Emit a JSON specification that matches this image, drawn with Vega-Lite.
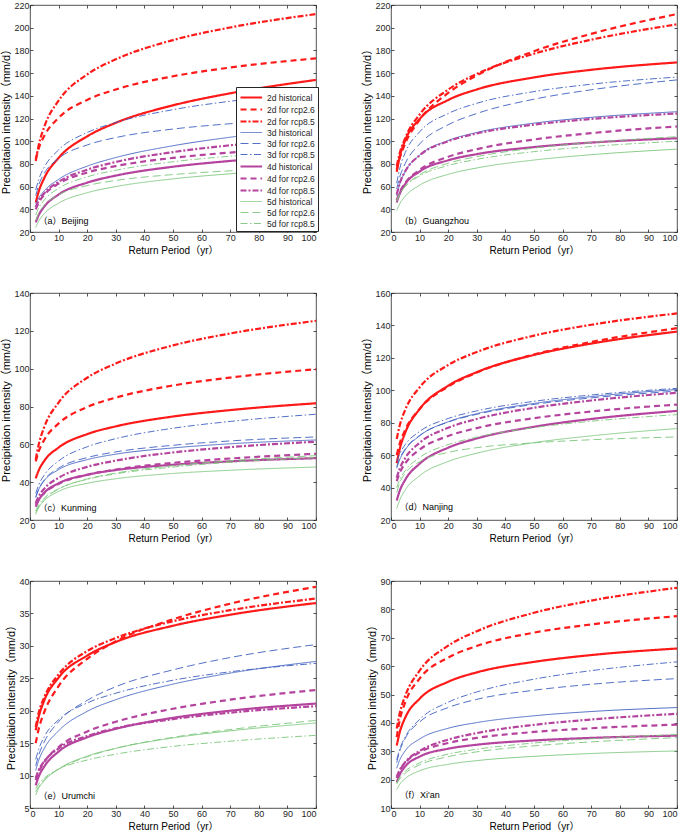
{
  "$schema": "https://vega.github.io/schema/vega-lite/v6.json",
  "padding": {"left": 0, "top": 0, "right": 0, "bottom": 0},
  "background": "white",
  "datasets": {
    "a": [
      {"s":"2d historical","t":2,"v":46},{"s":"2d historical","t":3,"v":55.4},{"s":"2d historical","t":5,"v":67.6},{"s":"2d historical","t":10,"v":85.3},{"s":"2d historical","t":20,"v":104.3},{"s":"2d historical","t":30,"v":116.2},{"s":"2d historical","t":50,"v":131.6},{"s":"2d historical","t":70,"v":142.2},{"s":"2d historical","t":100,"v":154},
      {"s":"2d for rcp2.6","t":2,"v":84},{"s":"2d for rcp2.6","t":3,"v":93.3},{"s":"2d for rcp2.6","t":5,"v":104.8},{"s":"2d for rcp2.6","t":10,"v":120.6},{"s":"2d for rcp2.6","t":20,"v":136.4},{"s":"2d for rcp2.6","t":30,"v":145.6},{"s":"2d for rcp2.6","t":50,"v":157.2},{"s":"2d for rcp2.6","t":70,"v":164.9},{"s":"2d for rcp2.6","t":100,"v":173},
      {"s":"2d for rcp8.5","t":2,"v":82.5},{"s":"2d for rcp8.5","t":3,"v":96},{"s":"2d for rcp8.5","t":5,"v":112.8},{"s":"2d for rcp8.5","t":10,"v":135.7},{"s":"2d for rcp8.5","t":20,"v":158.8},{"s":"2d for rcp8.5","t":30,"v":172.1},{"s":"2d for rcp8.5","t":50,"v":189.1},{"s":"2d for rcp8.5","t":70,"v":200.2},{"s":"2d for rcp8.5","t":100,"v":212},
      {"s":"3d historical","t":2,"v":45},{"s":"3d historical","t":3,"v":49.8},{"s":"3d historical","t":5,"v":56.3},{"s":"3d historical","t":10,"v":66.4},{"s":"3d historical","t":20,"v":78},{"s":"3d historical","t":30,"v":85.6},{"s":"3d historical","t":50,"v":96},{"s":"3d historical","t":70,"v":103.5},{"s":"3d historical","t":100,"v":112},
      {"s":"3d for rcp2.6","t":2,"v":52},{"s":"3d for rcp2.6","t":3,"v":61},{"s":"3d for rcp2.6","t":5,"v":71.7},{"s":"3d for rcp2.6","t":10,"v":84.8},{"s":"3d for rcp2.6","t":20,"v":96.7},{"s":"3d for rcp2.6","t":30,"v":103.2},{"s":"3d for rcp2.6","t":50,"v":110.7},{"s":"3d for rcp2.6","t":70,"v":115.4},{"s":"3d for rcp2.6","t":100,"v":120},
      {"s":"3d for rcp8.5","t":2,"v":57},{"s":"3d for rcp8.5","t":3,"v":65.9},{"s":"3d for rcp8.5","t":5,"v":77.1},{"s":"3d for rcp8.5","t":10,"v":92.3},{"s":"3d for rcp8.5","t":20,"v":107.7},{"s":"3d for rcp8.5","t":30,"v":116.5},{"s":"3d for rcp8.5","t":50,"v":127.8},{"s":"3d for rcp8.5","t":70,"v":135.2},{"s":"3d for rcp8.5","t":100,"v":143},
      {"s":"4d historical","t":2,"v":28.5},{"s":"4d historical","t":3,"v":34.7},{"s":"4d historical","t":5,"v":42.4},{"s":"4d historical","t":10,"v":53},{"s":"4d historical","t":20,"v":63.5},{"s":"4d historical","t":30,"v":69.7},{"s":"4d historical","t":50,"v":77.5},{"s":"4d historical","t":70,"v":82.6},{"s":"4d historical","t":100,"v":88},
      {"s":"4d for rcp2.6","t":2,"v":40},{"s":"4d for rcp2.6","t":3,"v":45.7},{"s":"4d for rcp2.6","t":5,"v":52.9},{"s":"4d for rcp2.6","t":10,"v":62.6},{"s":"4d for rcp2.6","t":20,"v":72.4},{"s":"4d for rcp2.6","t":30,"v":78.1},{"s":"4d for rcp2.6","t":50,"v":85.3},{"s":"4d for rcp2.6","t":70,"v":90},{"s":"4d for rcp2.6","t":100,"v":95},
      {"s":"4d for rcp8.5","t":2,"v":42},{"s":"4d for rcp8.5","t":3,"v":47.3},{"s":"4d for rcp8.5","t":5,"v":54.2},{"s":"4d for rcp8.5","t":10,"v":64.2},{"s":"4d for rcp8.5","t":20,"v":74.9},{"s":"4d for rcp8.5","t":30,"v":81.7},{"s":"4d for rcp8.5","t":50,"v":90.4},{"s":"4d for rcp8.5","t":70,"v":96.4},{"s":"4d for rcp8.5","t":100,"v":103},
      {"s":"5d historical","t":2,"v":24},{"s":"5d historical","t":3,"v":29.4},{"s":"5d historical","t":5,"v":36.2},{"s":"5d historical","t":10,"v":45.4},{"s":"5d historical","t":20,"v":54.6},{"s":"5d historical","t":30,"v":60},{"s":"5d historical","t":50,"v":66.8},{"s":"5d historical","t":70,"v":71.3},{"s":"5d historical","t":100,"v":76},
      {"s":"5d for rcp2.6","t":2,"v":30},{"s":"5d for rcp2.6","t":3,"v":36.3},{"s":"5d for rcp2.6","t":5,"v":43.6},{"s":"5d for rcp2.6","t":10,"v":52.7},{"s":"5d for rcp2.6","t":20,"v":60.9},{"s":"5d for rcp2.6","t":30,"v":65.4},{"s":"5d for rcp2.6","t":50,"v":70.6},{"s":"5d for rcp2.6","t":70,"v":73.9},{"s":"5d for rcp2.6","t":100,"v":77},
      {"s":"5d for rcp8.5","t":2,"v":35},{"s":"5d for rcp8.5","t":3,"v":40.9},{"s":"5d for rcp8.5","t":5,"v":48.3},{"s":"5d for rcp8.5","t":10,"v":58.4},{"s":"5d for rcp8.5","t":20,"v":68.6},{"s":"5d for rcp8.5","t":30,"v":74.4},{"s":"5d for rcp8.5","t":50,"v":81.9},{"s":"5d for rcp8.5","t":70,"v":86.8},{"s":"5d for rcp8.5","t":100,"v":92}
    ],
    "b": [
      {"s":"2d historical","t":2,"v":73},{"s":"2d historical","t":3,"v":85.8},{"s":"2d historical","t":5,"v":100.9},{"s":"2d historical","t":10,"v":119.6},{"s":"2d historical","t":20,"v":136.3},{"s":"2d historical","t":30,"v":145.6},{"s":"2d historical","t":50,"v":156.2},{"s":"2d historical","t":70,"v":162.9},{"s":"2d historical","t":100,"v":169.4},
      {"s":"2d for rcp2.6","t":2,"v":75},{"s":"2d for rcp2.6","t":3,"v":84.7},{"s":"2d for rcp2.6","t":5,"v":98.2},{"s":"2d for rcp2.6","t":10,"v":118.8},{"s":"2d for rcp2.6","t":20,"v":142.5},{"s":"2d for rcp2.6","t":30,"v":158},{"s":"2d for rcp2.6","t":50,"v":179.3},{"s":"2d for rcp2.6","t":70,"v":194.6},{"s":"2d for rcp2.6","t":100,"v":212},
      {"s":"2d for rcp8.5","t":2,"v":78},{"s":"2d for rcp8.5","t":3,"v":88.9},{"s":"2d for rcp8.5","t":5,"v":103},{"s":"2d for rcp8.5","t":10,"v":123.5},{"s":"2d for rcp8.5","t":20,"v":145.5},{"s":"2d for rcp8.5","t":30,"v":159.3},{"s":"2d for rcp8.5","t":50,"v":177.1},{"s":"2d for rcp8.5","t":70,"v":189.4},{"s":"2d for rcp8.5","t":100,"v":203},
      {"s":"3d historical","t":2,"v":52},{"s":"3d historical","t":3,"v":61.8},{"s":"3d historical","t":5,"v":73.4},{"s":"3d historical","t":10,"v":87.7},{"s":"3d historical","t":20,"v":100.6},{"s":"3d historical","t":30,"v":107.7},{"s":"3d historical","t":50,"v":115.9},{"s":"3d historical","t":70,"v":121},{"s":"3d historical","t":100,"v":126},
      {"s":"3d for rcp2.6","t":2,"v":58},{"s":"3d for rcp2.6","t":3,"v":68},{"s":"3d for rcp2.6","t":5,"v":80.5},{"s":"3d for rcp2.6","t":10,"v":97.5},{"s":"3d for rcp2.6","t":20,"v":114.5},{"s":"3d for rcp2.6","t":30,"v":124.4},{"s":"3d for rcp2.6","t":50,"v":137},{"s":"3d for rcp2.6","t":70,"v":145.3},{"s":"3d for rcp2.6","t":100,"v":154},
      {"s":"3d for rcp8.5","t":2,"v":63},{"s":"3d for rcp8.5","t":3,"v":75.4},{"s":"3d for rcp8.5","t":5,"v":90},{"s":"3d for rcp8.5","t":10,"v":108.2},{"s":"3d for rcp8.5","t":20,"v":124.4},{"s":"3d for rcp8.5","t":30,"v":133.4},{"s":"3d for rcp8.5","t":50,"v":143.7},{"s":"3d for rcp8.5","t":70,"v":150.2},{"s":"3d for rcp8.5","t":100,"v":156.5},
      {"s":"4d historical","t":2,"v":46},{"s":"4d historical","t":3,"v":53.5},{"s":"4d historical","t":5,"v":62.4},{"s":"4d historical","t":10,"v":73.3},{"s":"4d historical","t":20,"v":83.2},{"s":"4d historical","t":30,"v":88.6},{"s":"4d historical","t":50,"v":94.8},{"s":"4d historical","t":70,"v":98.8},{"s":"4d historical","t":100,"v":102.6},
      {"s":"4d for rcp2.6","t":2,"v":48},{"s":"4d for rcp2.6","t":3,"v":54.8},{"s":"4d for rcp2.6","t":5,"v":63.2},{"s":"4d for rcp2.6","t":10,"v":74.7},{"s":"4d for rcp2.6","t":20,"v":86.3},{"s":"4d for rcp2.6","t":30,"v":93},{"s":"4d for rcp2.6","t":50,"v":101.5},{"s":"4d for rcp2.6","t":70,"v":107.1},{"s":"4d for rcp2.6","t":100,"v":113},
      {"s":"4d for rcp8.5","t":2,"v":53},{"s":"4d for rcp8.5","t":3,"v":62.5},{"s":"4d for rcp8.5","t":5,"v":73.6},{"s":"4d for rcp8.5","t":10,"v":87.5},{"s":"4d for rcp8.5","t":20,"v":99.9},{"s":"4d for rcp8.5","t":30,"v":106.8},{"s":"4d for rcp8.5","t":50,"v":114.6},{"s":"4d for rcp8.5","t":70,"v":119.6},{"s":"4d for rcp8.5","t":100,"v":124.4},
      {"s":"5d historical","t":2,"v":39},{"s":"5d historical","t":3,"v":44.6},{"s":"5d historical","t":5,"v":51.6},{"s":"5d historical","t":10,"v":61.2},{"s":"5d historical","t":20,"v":70.8},{"s":"5d historical","t":30,"v":76.4},{"s":"5d historical","t":50,"v":83.4},{"s":"5d historical","t":70,"v":88.1},{"s":"5d historical","t":100,"v":93},
      {"s":"5d for rcp2.6","t":2,"v":47},{"s":"5d for rcp2.6","t":3,"v":52.9},{"s":"5d for rcp2.6","t":5,"v":60.3},{"s":"5d for rcp2.6","t":10,"v":70.4},{"s":"5d for rcp2.6","t":20,"v":80.6},{"s":"5d for rcp2.6","t":30,"v":86.4},{"s":"5d for rcp2.6","t":50,"v":93.9},{"s":"5d for rcp2.6","t":70,"v":98.8},{"s":"5d for rcp2.6","t":100,"v":104},
      {"s":"5d for rcp8.5","t":2,"v":48},{"s":"5d for rcp8.5","t":3,"v":53.4},{"s":"5d for rcp8.5","t":5,"v":60.2},{"s":"5d for rcp8.5","t":10,"v":69.4},{"s":"5d for rcp8.5","t":20,"v":78.6},{"s":"5d for rcp8.5","t":30,"v":84},{"s":"5d for rcp8.5","t":50,"v":90.8},{"s":"5d for rcp8.5","t":70,"v":95.3},{"s":"5d for rcp8.5","t":100,"v":100}
    ],
    "c": [
      {"s":"2d historical","t":2,"v":42},{"s":"2d historical","t":3,"v":46.1},{"s":"2d historical","t":5,"v":51.3},{"s":"2d historical","t":10,"v":58.3},{"s":"2d historical","t":20,"v":65.4},{"s":"2d historical","t":30,"v":69.5},{"s":"2d historical","t":50,"v":74.7},{"s":"2d historical","t":70,"v":78.1},{"s":"2d historical","t":100,"v":81.7},
      {"s":"2d for rcp2.6","t":2,"v":51},{"s":"2d for rcp2.6","t":3,"v":56.1},{"s":"2d for rcp2.6","t":5,"v":62.4},{"s":"2d for rcp2.6","t":10,"v":71},{"s":"2d for rcp2.6","t":20,"v":79.7},{"s":"2d for rcp2.6","t":30,"v":84.7},{"s":"2d for rcp2.6","t":50,"v":91.1},{"s":"2d for rcp2.6","t":70,"v":95.3},{"s":"2d for rcp2.6","t":100,"v":99.7},
      {"s":"2d for rcp8.5","t":2,"v":52},{"s":"2d for rcp8.5","t":3,"v":59.6},{"s":"2d for rcp8.5","t":5,"v":69.2},{"s":"2d for rcp8.5","t":10,"v":82.1},{"s":"2d for rcp8.5","t":20,"v":95.2},{"s":"2d for rcp8.5","t":30,"v":102.7},{"s":"2d for rcp8.5","t":50,"v":112.3},{"s":"2d for rcp8.5","t":70,"v":118.6},{"s":"2d for rcp8.5","t":100,"v":125.3},
      {"s":"3d historical","t":2,"v":32},{"s":"3d historical","t":3,"v":36},{"s":"3d historical","t":5,"v":40.8},{"s":"3d historical","t":10,"v":46.6},{"s":"3d historical","t":20,"v":51.9},{"s":"3d historical","t":30,"v":54.8},{"s":"3d historical","t":50,"v":58.1},{"s":"3d historical","t":70,"v":60.3},{"s":"3d historical","t":100,"v":62.3},
      {"s":"3d for rcp2.6","t":2,"v":32},{"s":"3d for rcp2.6","t":3,"v":36.2},{"s":"3d for rcp2.6","t":5,"v":41.2},{"s":"3d for rcp2.6","t":10,"v":47.4},{"s":"3d for rcp2.6","t":20,"v":53},{"s":"3d for rcp2.6","t":30,"v":56},{"s":"3d for rcp2.6","t":50,"v":59.5},{"s":"3d for rcp2.6","t":70,"v":61.8},{"s":"3d for rcp2.6","t":100,"v":63.9},
      {"s":"3d for rcp8.5","t":2,"v":34},{"s":"3d for rcp8.5","t":3,"v":38.4},{"s":"3d for rcp8.5","t":5,"v":43.8},{"s":"3d for rcp8.5","t":10,"v":51.2},{"s":"3d for rcp8.5","t":20,"v":58.7},{"s":"3d for rcp8.5","t":30,"v":63},{"s":"3d for rcp8.5","t":50,"v":68.5},{"s":"3d for rcp8.5","t":70,"v":72.1},{"s":"3d for rcp8.5","t":100,"v":75.9},
      {"s":"4d historical","t":2,"v":27},{"s":"4d historical","t":3,"v":30.4},{"s":"4d historical","t":5,"v":34.4},{"s":"4d historical","t":10,"v":39.4},{"s":"4d historical","t":20,"v":43.9},{"s":"4d historical","t":30,"v":46.4},{"s":"4d historical","t":50,"v":49.2},{"s":"4d historical","t":70,"v":51},{"s":"4d historical","t":100,"v":52.7},
      {"s":"4d for rcp2.6","t":2,"v":28},{"s":"4d for rcp2.6","t":3,"v":30.8},{"s":"4d for rcp2.6","t":5,"v":34.3},{"s":"4d for rcp2.6","t":10,"v":39.1},{"s":"4d for rcp2.6","t":20,"v":43.9},{"s":"4d for rcp2.6","t":30,"v":46.7},{"s":"4d for rcp2.6","t":50,"v":50.2},{"s":"4d for rcp2.6","t":70,"v":52.5},{"s":"4d for rcp2.6","t":100,"v":55},
      {"s":"4d for rcp8.5","t":2,"v":29},{"s":"4d for rcp8.5","t":3,"v":32.4},{"s":"4d for rcp8.5","t":5,"v":36.6},{"s":"4d for rcp8.5","t":10,"v":42.3},{"s":"4d for rcp8.5","t":20,"v":48.1},{"s":"4d for rcp8.5","t":30,"v":51.4},{"s":"4d for rcp8.5","t":50,"v":55.7},{"s":"4d for rcp8.5","t":70,"v":58.5},{"s":"4d for rcp8.5","t":100,"v":61.4},
      {"s":"5d historical","t":2,"v":23},{"s":"5d historical","t":3,"v":26.3},{"s":"5d historical","t":5,"v":30.2},{"s":"5d historical","t":10,"v":35.1},{"s":"5d historical","t":20,"v":39.4},{"s":"5d historical","t":30,"v":41.8},{"s":"5d historical","t":50,"v":44.6},{"s":"5d historical","t":70,"v":46.3},{"s":"5d historical","t":100,"v":48},
      {"s":"5d for rcp2.6","t":2,"v":24},{"s":"5d for rcp2.6","t":3,"v":27.1},{"s":"5d for rcp2.6","t":5,"v":31},{"s":"5d for rcp2.6","t":10,"v":36.3},{"s":"5d for rcp2.6","t":20,"v":41.7},{"s":"5d for rcp2.6","t":30,"v":44.8},{"s":"5d for rcp2.6","t":50,"v":48.7},{"s":"5d for rcp2.6","t":70,"v":51.3},{"s":"5d for rcp2.6","t":100,"v":54},
      {"s":"5d for rcp8.5","t":2,"v":25},{"s":"5d for rcp8.5","t":3,"v":27.9},{"s":"5d for rcp8.5","t":5,"v":31.6},{"s":"5d for rcp8.5","t":10,"v":36.5},{"s":"5d for rcp8.5","t":20,"v":41.5},{"s":"5d for rcp8.5","t":30,"v":44.4},{"s":"5d for rcp8.5","t":50,"v":48},{"s":"5d for rcp8.5","t":70,"v":50.5},{"s":"5d for rcp8.5","t":100,"v":53}
    ],
    "d": [
      {"s":"2d historical","t":2,"v":55},{"s":"2d historical","t":3,"v":63.4},{"s":"2d historical","t":5,"v":74},{"s":"2d historical","t":10,"v":88.4},{"s":"2d historical","t":20,"v":102.8},{"s":"2d historical","t":30,"v":111.2},{"s":"2d historical","t":50,"v":121.8},{"s":"2d historical","t":70,"v":128.8},{"s":"2d historical","t":100,"v":136.2},
      {"s":"2d for rcp2.6","t":2,"v":60},{"s":"2d for rcp2.6","t":3,"v":66.8},{"s":"2d for rcp2.6","t":5,"v":75.7},{"s":"2d for rcp2.6","t":10,"v":88.5},{"s":"2d for rcp2.6","t":20,"v":102.3},{"s":"2d for rcp2.6","t":30,"v":110.9},{"s":"2d for rcp2.6","t":50,"v":122.1},{"s":"2d for rcp2.6","t":70,"v":129.8},{"s":"2d for rcp2.6","t":100,"v":138.3},
      {"s":"2d for rcp8.5","t":2,"v":70},{"s":"2d for rcp8.5","t":3,"v":78},{"s":"2d for rcp8.5","t":5,"v":88.1},{"s":"2d for rcp8.5","t":10,"v":101.8},{"s":"2d for rcp8.5","t":20,"v":115.6},{"s":"2d for rcp8.5","t":30,"v":123.6},{"s":"2d for rcp8.5","t":50,"v":133.7},{"s":"2d for rcp8.5","t":70,"v":140.4},{"s":"2d for rcp8.5","t":100,"v":147.4},
      {"s":"3d historical","t":2,"v":52},{"s":"3d historical","t":3,"v":57},{"s":"3d historical","t":5,"v":63.3},{"s":"3d historical","t":10,"v":71.9},{"s":"3d historical","t":20,"v":80.6},{"s":"3d historical","t":30,"v":85.6},{"s":"3d historical","t":50,"v":91.9},{"s":"3d historical","t":70,"v":96.1},{"s":"3d historical","t":100,"v":100.5},
      {"s":"3d for rcp2.6","t":2,"v":53},{"s":"3d for rcp2.6","t":3,"v":57.8},{"s":"3d for rcp2.6","t":5,"v":63.9},{"s":"3d for rcp2.6","t":10,"v":72.1},{"s":"3d for rcp2.6","t":20,"v":80.4},{"s":"3d for rcp2.6","t":30,"v":85.2},{"s":"3d for rcp2.6","t":50,"v":91.3},{"s":"3d for rcp2.6","t":70,"v":95.3},{"s":"3d for rcp2.6","t":100,"v":99.5},
      {"s":"3d for rcp8.5","t":2,"v":56},{"s":"3d for rcp8.5","t":3,"v":60.7},{"s":"3d for rcp8.5","t":5,"v":66.6},{"s":"3d for rcp8.5","t":10,"v":74.6},{"s":"3d for rcp8.5","t":20,"v":82.6},{"s":"3d for rcp8.5","t":30,"v":87.3},{"s":"3d for rcp8.5","t":50,"v":93.2},{"s":"3d for rcp8.5","t":70,"v":97.1},{"s":"3d for rcp8.5","t":100,"v":101.2},
      {"s":"4d historical","t":2,"v":32},{"s":"4d historical","t":3,"v":37.8},{"s":"4d historical","t":5,"v":44.9},{"s":"4d historical","t":10,"v":54.7},{"s":"4d historical","t":20,"v":64.6},{"s":"4d historical","t":30,"v":70.3},{"s":"4d historical","t":50,"v":77.5},{"s":"4d historical","t":70,"v":82.3},{"s":"4d historical","t":100,"v":87.3},
      {"s":"4d for rcp2.6","t":2,"v":44},{"s":"4d for rcp2.6","t":3,"v":48.9},{"s":"4d for rcp2.6","t":5,"v":55},{"s":"4d for rcp2.6","t":10,"v":63.4},{"s":"4d for rcp2.6","t":20,"v":71.8},{"s":"4d for rcp2.6","t":30,"v":76.7},{"s":"4d for rcp2.6","t":50,"v":82.8},{"s":"4d for rcp2.6","t":70,"v":86.9},{"s":"4d for rcp2.6","t":100,"v":91.2},
      {"s":"4d for rcp8.5","t":2,"v":46},{"s":"4d for rcp8.5","t":3,"v":51.5},{"s":"4d for rcp8.5","t":5,"v":58.3},{"s":"4d for rcp8.5","t":10,"v":67.6},{"s":"4d for rcp8.5","t":20,"v":76.9},{"s":"4d for rcp8.5","t":30,"v":82.3},{"s":"4d for rcp8.5","t":50,"v":89.2},{"s":"4d for rcp8.5","t":70,"v":93.7},{"s":"4d for rcp8.5","t":100,"v":98.5},
      {"s":"5d historical","t":2,"v":27},{"s":"5d historical","t":3,"v":32.1},{"s":"5d historical","t":5,"v":38.6},{"s":"5d historical","t":10,"v":47.3},{"s":"5d historical","t":20,"v":56.1},{"s":"5d historical","t":30,"v":61.2},{"s":"5d historical","t":50,"v":67.7},{"s":"5d historical","t":70,"v":71.9},{"s":"5d historical","t":100,"v":76.4},
      {"s":"5d for rcp2.6","t":2,"v":37},{"s":"5d for rcp2.6","t":3,"v":42.7},{"s":"5d for rcp2.6","t":5,"v":48.9},{"s":"5d for rcp2.6","t":10,"v":55.9},{"s":"5d for rcp2.6","t":20,"v":61.7},{"s":"5d for rcp2.6","t":30,"v":64.6},{"s":"5d for rcp2.6","t":50,"v":67.6},{"s":"5d for rcp2.6","t":70,"v":69.5},{"s":"5d for rcp2.6","t":100,"v":71.2},
      {"s":"5d for rcp8.5","t":2,"v":40},{"s":"5d for rcp8.5","t":3,"v":44.7},{"s":"5d for rcp8.5","t":5,"v":50.5},{"s":"5d for rcp8.5","t":10,"v":58.5},{"s":"5d for rcp8.5","t":20,"v":66.5},{"s":"5d for rcp8.5","t":30,"v":71.1},{"s":"5d for rcp8.5","t":50,"v":77},{"s":"5d for rcp8.5","t":70,"v":80.9},{"s":"5d for rcp8.5","t":100,"v":85}
    ],
    "e": [
      {"s":"2d historical","t":2,"v":17},{"s":"2d historical","t":3,"v":19},{"s":"2d historical","t":5,"v":21.6},{"s":"2d historical","t":10,"v":25.1},{"s":"2d historical","t":20,"v":28.5},{"s":"2d historical","t":30,"v":30.6},{"s":"2d historical","t":50,"v":33.1},{"s":"2d historical","t":70,"v":34.8},{"s":"2d historical","t":100,"v":36.6},
      {"s":"2d for rcp2.6","t":2,"v":15},{"s":"2d for rcp2.6","t":3,"v":17.1},{"s":"2d for rcp2.6","t":5,"v":19.8},{"s":"2d for rcp2.6","t":10,"v":23.8},{"s":"2d for rcp2.6","t":20,"v":28},{"s":"2d for rcp2.6","t":30,"v":30.7},{"s":"2d for rcp2.6","t":50,"v":34.1},{"s":"2d for rcp2.6","t":70,"v":36.5},{"s":"2d for rcp2.6","t":100,"v":39.1},
      {"s":"2d for rcp8.5","t":2,"v":17.5},{"s":"2d for rcp8.5","t":3,"v":19.6},{"s":"2d for rcp8.5","t":5,"v":22.1},{"s":"2d for rcp8.5","t":10,"v":25.6},{"s":"2d for rcp8.5","t":20,"v":29.2},{"s":"2d for rcp8.5","t":30,"v":31.2},{"s":"2d for rcp8.5","t":50,"v":33.8},{"s":"2d for rcp8.5","t":70,"v":35.5},{"s":"2d for rcp8.5","t":100,"v":37.3},
      {"s":"3d historical","t":2,"v":10.8},{"s":"3d historical","t":3,"v":12.3},{"s":"3d historical","t":5,"v":14.2},{"s":"3d historical","t":10,"v":16.9},{"s":"3d historical","t":20,"v":19.9},{"s":"3d historical","t":30,"v":21.7},{"s":"3d historical","t":50,"v":24.1},{"s":"3d historical","t":70,"v":25.8},{"s":"3d historical","t":100,"v":27.6},
      {"s":"3d for rcp2.6","t":2,"v":11.5},{"s":"3d for rcp2.6","t":3,"v":13.1},{"s":"3d for rcp2.6","t":5,"v":15.2},{"s":"3d for rcp2.6","t":10,"v":18.3},{"s":"3d for rcp2.6","t":20,"v":21.6},{"s":"3d for rcp2.6","t":30,"v":23.7},{"s":"3d for rcp2.6","t":50,"v":26.3},{"s":"3d for rcp2.6","t":70,"v":28.2},{"s":"3d for rcp2.6","t":100,"v":30.2},
      {"s":"3d for rcp8.5","t":2,"v":12.5},{"s":"3d for rcp8.5","t":3,"v":14},{"s":"3d for rcp8.5","t":5,"v":16},{"s":"3d for rcp8.5","t":10,"v":18.6},{"s":"3d for rcp8.5","t":20,"v":21.2},{"s":"3d for rcp8.5","t":30,"v":22.7},{"s":"3d for rcp8.5","t":50,"v":24.7},{"s":"3d for rcp8.5","t":70,"v":26},{"s":"3d for rcp8.5","t":100,"v":27.3},
      {"s":"4d historical","t":2,"v":8.5},{"s":"4d historical","t":3,"v":9.8},{"s":"4d historical","t":5,"v":11.4},{"s":"4d historical","t":10,"v":13.7},{"s":"4d historical","t":20,"v":15.9},{"s":"4d historical","t":30,"v":17.2},{"s":"4d historical","t":50,"v":18.9},{"s":"4d historical","t":70,"v":20},{"s":"4d historical","t":100,"v":21.1},
      {"s":"4d for rcp2.6","t":2,"v":9.3},{"s":"4d for rcp2.6","t":3,"v":10.5},{"s":"4d for rcp2.6","t":5,"v":12.1},{"s":"4d for rcp2.6","t":10,"v":14.4},{"s":"4d for rcp2.6","t":20,"v":16.8},{"s":"4d for rcp2.6","t":30,"v":18.3},{"s":"4d for rcp2.6","t":50,"v":20.3},{"s":"4d for rcp2.6","t":70,"v":21.7},{"s":"4d for rcp2.6","t":100,"v":23.2},
      {"s":"4d for rcp8.5","t":2,"v":9.6},{"s":"4d for rcp8.5","t":3,"v":10.8},{"s":"4d for rcp8.5","t":5,"v":12.2},{"s":"4d for rcp8.5","t":10,"v":14.2},{"s":"4d for rcp8.5","t":20,"v":16.1},{"s":"4d for rcp8.5","t":30,"v":17.3},{"s":"4d for rcp8.5","t":50,"v":18.7},{"s":"4d for rcp8.5","t":70,"v":19.7},{"s":"4d for rcp8.5","t":100,"v":20.7},
      {"s":"5d historical","t":2,"v":7},{"s":"5d historical","t":3,"v":8},{"s":"5d historical","t":5,"v":9.2},{"s":"5d historical","t":10,"v":11},{"s":"5d historical","t":20,"v":13},{"s":"5d historical","t":30,"v":14.2},{"s":"5d historical","t":50,"v":15.8},{"s":"5d historical","t":70,"v":16.9},{"s":"5d historical","t":100,"v":18.1},
      {"s":"5d for rcp2.6","t":2,"v":7.5},{"s":"5d for rcp2.6","t":3,"v":8.3},{"s":"5d for rcp2.6","t":5,"v":9.4},{"s":"5d for rcp2.6","t":10,"v":11},{"s":"5d for rcp2.6","t":20,"v":12.9},{"s":"5d for rcp2.6","t":30,"v":14.2},{"s":"5d for rcp2.6","t":50,"v":15.9},{"s":"5d for rcp2.6","t":70,"v":17.1},{"s":"5d for rcp2.6","t":100,"v":18.5},
      {"s":"5d for rcp8.5","t":2,"v":8},{"s":"5d for rcp8.5","t":3,"v":8.7},{"s":"5d for rcp8.5","t":5,"v":9.6},{"s":"5d for rcp8.5","t":10,"v":11},{"s":"5d for rcp8.5","t":20,"v":12.4},{"s":"5d for rcp8.5","t":30,"v":13.3},{"s":"5d for rcp8.5","t":50,"v":14.5},{"s":"5d for rcp8.5","t":70,"v":15.3},{"s":"5d for rcp8.5","t":100,"v":16.2}
    ],
    "f": [
      {"s":"2d historical","t":2,"v":32},{"s":"2d historical","t":3,"v":36.5},{"s":"2d historical","t":5,"v":41.9},{"s":"2d historical","t":10,"v":48.5},{"s":"2d historical","t":20,"v":54.5},{"s":"2d historical","t":30,"v":57.8},{"s":"2d historical","t":50,"v":61.5},{"s":"2d historical","t":70,"v":63.9},{"s":"2d historical","t":100,"v":66.2},
      {"s":"2d for rcp2.6","t":2,"v":35},{"s":"2d for rcp2.6","t":3,"v":40.7},{"s":"2d for rcp2.6","t":5,"v":47.3},{"s":"2d for rcp2.6","t":10,"v":55.6},{"s":"2d for rcp2.6","t":20,"v":63},{"s":"2d for rcp2.6","t":30,"v":67.1},{"s":"2d for rcp2.6","t":50,"v":71.8},{"s":"2d for rcp2.6","t":70,"v":74.7},{"s":"2d for rcp2.6","t":100,"v":77.6},
      {"s":"2d for rcp8.5","t":2,"v":38},{"s":"2d for rcp8.5","t":3,"v":43.2},{"s":"2d for rcp8.5","t":5,"v":49.6},{"s":"2d for rcp8.5","t":10,"v":58.4},{"s":"2d for rcp8.5","t":20,"v":67.2},{"s":"2d for rcp8.5","t":30,"v":72.3},{"s":"2d for rcp8.5","t":50,"v":78.8},{"s":"2d for rcp8.5","t":70,"v":83.1},{"s":"2d for rcp8.5","t":100,"v":87.6},
      {"s":"3d historical","t":2,"v":24},{"s":"3d historical","t":3,"v":26.8},{"s":"3d historical","t":5,"v":30.2},{"s":"3d historical","t":10,"v":34.3},{"s":"3d historical","t":20,"v":38.1},{"s":"3d historical","t":30,"v":40.1},{"s":"3d historical","t":50,"v":42.5},{"s":"3d historical","t":70,"v":44},{"s":"3d historical","t":100,"v":45.4},
      {"s":"3d for rcp2.6","t":2,"v":26},{"s":"3d for rcp2.6","t":3,"v":29.9},{"s":"3d for rcp2.6","t":5,"v":34.6},{"s":"3d for rcp2.6","t":10,"v":40.3},{"s":"3d for rcp2.6","t":20,"v":45.4},{"s":"3d for rcp2.6","t":30,"v":48.3},{"s":"3d for rcp2.6","t":50,"v":51.5},{"s":"3d for rcp2.6","t":70,"v":53.6},{"s":"3d for rcp2.6","t":100,"v":55.6},
      {"s":"3d for rcp8.5","t":2,"v":27},{"s":"3d for rcp8.5","t":3,"v":30.6},{"s":"3d for rcp8.5","t":5,"v":35.1},{"s":"3d for rcp8.5","t":10,"v":41.2},{"s":"3d for rcp8.5","t":20,"v":47.3},{"s":"3d for rcp8.5","t":30,"v":50.9},{"s":"3d for rcp8.5","t":50,"v":55.4},{"s":"3d for rcp8.5","t":70,"v":58.4},{"s":"3d for rcp8.5","t":100,"v":61.5},
      {"s":"4d historical","t":2,"v":19},{"s":"4d historical","t":3,"v":21.7},{"s":"4d historical","t":5,"v":24.7},{"s":"4d historical","t":10,"v":28.1},{"s":"4d historical","t":20,"v":30.9},{"s":"4d historical","t":30,"v":32.3},{"s":"4d historical","t":50,"v":33.8},{"s":"4d historical","t":70,"v":34.7},{"s":"4d historical","t":100,"v":35.5},
      {"s":"4d for rcp2.6","t":2,"v":20.5},{"s":"4d for rcp2.6","t":3,"v":23},{"s":"4d for rcp2.6","t":5,"v":26},{"s":"4d for rcp2.6","t":10,"v":29.6},{"s":"4d for rcp2.6","t":20,"v":32.9},{"s":"4d for rcp2.6","t":30,"v":34.7},{"s":"4d for rcp2.6","t":50,"v":36.8},{"s":"4d for rcp2.6","t":70,"v":38.1},{"s":"4d for rcp2.6","t":100,"v":39.4},
      {"s":"4d for rcp8.5","t":2,"v":21},{"s":"4d for rcp8.5","t":3,"v":23.3},{"s":"4d for rcp8.5","t":5,"v":26.2},{"s":"4d for rcp8.5","t":10,"v":30.1},{"s":"4d for rcp8.5","t":20,"v":34.1},{"s":"4d for rcp8.5","t":30,"v":36.4},{"s":"4d for rcp8.5","t":50,"v":39.3},{"s":"4d for rcp8.5","t":70,"v":41.2},{"s":"4d for rcp8.5","t":100,"v":43.2},
      {"s":"5d historical","t":2,"v":16.5},{"s":"5d historical","t":3,"v":18.3},{"s":"5d historical","t":5,"v":20.4},{"s":"5d historical","t":10,"v":23.1},{"s":"5d historical","t":20,"v":25.4},{"s":"5d historical","t":30,"v":26.7},{"s":"5d historical","t":50,"v":28.2},{"s":"5d historical","t":70,"v":29.2},{"s":"5d historical","t":100,"v":30.1},
      {"s":"5d for rcp2.6","t":2,"v":18.5},{"s":"5d for rcp2.6","t":3,"v":20.2},{"s":"5d for rcp2.6","t":5,"v":22.3},{"s":"5d for rcp2.6","t":10,"v":25.2},{"s":"5d for rcp2.6","t":20,"v":28.1},{"s":"5d for rcp2.6","t":30,"v":29.8},{"s":"5d for rcp2.6","t":50,"v":31.9},{"s":"5d for rcp2.6","t":70,"v":33.3},{"s":"5d for rcp2.6","t":100,"v":34.8},
      {"s":"5d for rcp8.5","t":2,"v":19},{"s":"5d for rcp8.5","t":3,"v":20.8},{"s":"5d for rcp8.5","t":5,"v":23},{"s":"5d for rcp8.5","t":10,"v":25.9},{"s":"5d for rcp8.5","t":20,"v":29},{"s":"5d for rcp8.5","t":30,"v":30.7},{"s":"5d for rcp8.5","t":50,"v":32.9},{"s":"5d for rcp8.5","t":70,"v":34.4},{"s":"5d for rcp8.5","t":100,"v":35.9}
    ]
  },
  "columns": 2,
  "spacing": {"row": 32, "column": 42},
  "resolve": {
    "scale": {"x": "independent", "y": "independent"},
    "legend": {"color": "independent", "strokeDash": "independent", "strokeWidth": "independent"}
  },
  "concat": [
    {
      "width": 286, "height": 227,
      "data": {"name": "a"},
      "resolve": {"axis": {"x": "independent", "y": "independent"}},
      "layer": [
        {
          "mark": {"type": "line", "interpolate": "monotone", "clip": true},
          "encoding": {
            "x": {"field": "t", "type": "quantitative", "scale": {"domain": [0, 100], "nice": false}, "axis": {"values": [0,10,20,30,40,50,60,70,80,90,100], "labelOverlap": false, "title": "Return Period（yr）"}},
            "y": {"field": "v", "type": "quantitative", "scale": {"domain": [20, 220], "nice": false}, "axis": {"values": [20,40,60,80,100,120,140,160,180,200,220], "labelOverlap": false, "title": "Precipitaion intensity（mm/d）"}},
            "color": {"field": "s", "type": "nominal", "scale": {"domain": ["2d historical","2d for rcp2.6","2d for rcp8.5","3d historical","3d for rcp2.6","3d for rcp8.5","4d historical","4d for rcp2.6","4d for rcp8.5","5d historical","5d for rcp2.6","5d for rcp8.5"], "range": ["#FF1A1A","#FF1A1A","#FF1A1A","#4060C0","#4060C0","#4060C0","#B5449E","#B5449E","#B5449E","#7CC67C","#7CC67C","#7CC67C"]}, "legend": {"title": null, "orient": "none", "legendX": 206, "legendY": 82}},
            "strokeDash": {"field": "s", "type": "nominal", "scale": {"domain": ["2d historical","2d for rcp2.6","2d for rcp8.5","3d historical","3d for rcp2.6","3d for rcp8.5","4d historical","4d for rcp2.6","4d for rcp8.5","5d historical","5d for rcp2.6","5d for rcp8.5"], "range": [[1,0],[6,4],[6,2,2,2],[1,0],[8,4],[7,2.5,1.5,2.5],[1,0],[6,4],[6,2,2,2],[1,0],[8,4],[7,2.5,1.5,2.5]]}, "legend": {"title": null, "orient": "none", "legendX": 206, "legendY": 82}},
            "strokeWidth": {"field": "s", "type": "nominal", "scale": {"type": "ordinal", "domain": ["2d historical","2d for rcp2.6","2d for rcp8.5","3d historical","3d for rcp2.6","3d for rcp8.5","4d historical","4d for rcp2.6","4d for rcp8.5","5d historical","5d for rcp2.6","5d for rcp8.5"], "range": [2.2,2.2,2.2,0.9,0.9,0.9,2.2,2.2,2.2,0.9,0.9,0.9]}, "legend": {"title": null, "orient": "none", "legendX": 206, "legendY": 82}}
          }
        },
        {
          "data": {"values": [{}]},
          "mark": {"type": "text", "align": "left", "baseline": "middle", "fontSize": 9, "color": "#000000"},
          "encoding": {
            "x": {"datum": 3, "axis": {"orient": "top", "labels": false, "title": null, "values": [0,10,20,30,40,50,60,70,80,90,100], "minExtent": 0}},
            "y": {"datum": 30, "axis": {"orient": "right", "labels": false, "title": null, "values": [20,40,60,80,100,120,140,160,180,200,220], "minExtent": 0}},
            "text": {"value": "（a）Beijing"}
          }
        }
      ]
    },
    {
      "width": 286, "height": 227,
      "data": {"name": "b"},
      "resolve": {"axis": {"x": "independent", "y": "independent"}},
      "layer": [
        {
          "mark": {"type": "line", "interpolate": "monotone", "clip": true},
          "encoding": {
            "x": {"field": "t", "type": "quantitative", "scale": {"domain": [0, 100], "nice": false}, "axis": {"values": [0,10,20,30,40,50,60,70,80,90,100], "labelOverlap": false, "title": "Return Period（yr）"}},
            "y": {"field": "v", "type": "quantitative", "scale": {"domain": [20, 220], "nice": false}, "axis": {"values": [20,40,60,80,100,120,140,160,180,200,220], "labelOverlap": false, "title": "Precipitaion intensity（mm/d）"}},
            "color": {"field": "s", "type": "nominal", "scale": {"domain": ["2d historical","2d for rcp2.6","2d for rcp8.5","3d historical","3d for rcp2.6","3d for rcp8.5","4d historical","4d for rcp2.6","4d for rcp8.5","5d historical","5d for rcp2.6","5d for rcp8.5"], "range": ["#FF1A1A","#FF1A1A","#FF1A1A","#4060C0","#4060C0","#4060C0","#B5449E","#B5449E","#B5449E","#7CC67C","#7CC67C","#7CC67C"]}, "legend": null},
            "strokeDash": {"field": "s", "type": "nominal", "scale": {"domain": ["2d historical","2d for rcp2.6","2d for rcp8.5","3d historical","3d for rcp2.6","3d for rcp8.5","4d historical","4d for rcp2.6","4d for rcp8.5","5d historical","5d for rcp2.6","5d for rcp8.5"], "range": [[1,0],[6,4],[6,2,2,2],[1,0],[8,4],[7,2.5,1.5,2.5],[1,0],[6,4],[6,2,2,2],[1,0],[8,4],[7,2.5,1.5,2.5]]}, "legend": null},
            "strokeWidth": {"field": "s", "type": "nominal", "scale": {"type": "ordinal", "domain": ["2d historical","2d for rcp2.6","2d for rcp8.5","3d historical","3d for rcp2.6","3d for rcp8.5","4d historical","4d for rcp2.6","4d for rcp8.5","5d historical","5d for rcp2.6","5d for rcp8.5"], "range": [2.2,2.2,2.2,0.9,0.9,0.9,2.2,2.2,2.2,0.9,0.9,0.9]}, "legend": null}
          }
        },
        {
          "data": {"values": [{}]},
          "mark": {"type": "text", "align": "left", "baseline": "middle", "fontSize": 9, "color": "#000000"},
          "encoding": {
            "x": {"datum": 3, "axis": {"orient": "top", "labels": false, "title": null, "values": [0,10,20,30,40,50,60,70,80,90,100], "minExtent": 0}},
            "y": {"datum": 30, "axis": {"orient": "right", "labels": false, "title": null, "values": [20,40,60,80,100,120,140,160,180,200,220], "minExtent": 0}},
            "text": {"value": "（b）Guangzhou"}
          }
        }
      ]
    },
    {
      "width": 286, "height": 227,
      "data": {"name": "c"},
      "resolve": {"axis": {"x": "independent", "y": "independent"}},
      "layer": [
        {
          "mark": {"type": "line", "interpolate": "monotone", "clip": true},
          "encoding": {
            "x": {"field": "t", "type": "quantitative", "scale": {"domain": [0, 100], "nice": false}, "axis": {"values": [0,10,20,30,40,50,60,70,80,90,100], "labelOverlap": false, "title": "Return Period（yr）"}},
            "y": {"field": "v", "type": "quantitative", "scale": {"domain": [20, 140], "nice": false}, "axis": {"values": [20,40,60,80,100,120,140], "labelOverlap": false, "title": "Precipitaion intensity（mm/d）"}},
            "color": {"field": "s", "type": "nominal", "scale": {"domain": ["2d historical","2d for rcp2.6","2d for rcp8.5","3d historical","3d for rcp2.6","3d for rcp8.5","4d historical","4d for rcp2.6","4d for rcp8.5","5d historical","5d for rcp2.6","5d for rcp8.5"], "range": ["#FF1A1A","#FF1A1A","#FF1A1A","#4060C0","#4060C0","#4060C0","#B5449E","#B5449E","#B5449E","#7CC67C","#7CC67C","#7CC67C"]}, "legend": null},
            "strokeDash": {"field": "s", "type": "nominal", "scale": {"domain": ["2d historical","2d for rcp2.6","2d for rcp8.5","3d historical","3d for rcp2.6","3d for rcp8.5","4d historical","4d for rcp2.6","4d for rcp8.5","5d historical","5d for rcp2.6","5d for rcp8.5"], "range": [[1,0],[6,4],[6,2,2,2],[1,0],[8,4],[7,2.5,1.5,2.5],[1,0],[6,4],[6,2,2,2],[1,0],[8,4],[7,2.5,1.5,2.5]]}, "legend": null},
            "strokeWidth": {"field": "s", "type": "nominal", "scale": {"type": "ordinal", "domain": ["2d historical","2d for rcp2.6","2d for rcp8.5","3d historical","3d for rcp2.6","3d for rcp8.5","4d historical","4d for rcp2.6","4d for rcp8.5","5d historical","5d for rcp2.6","5d for rcp8.5"], "range": [2.2,2.2,2.2,0.9,0.9,0.9,2.2,2.2,2.2,0.9,0.9,0.9]}, "legend": null}
          }
        },
        {
          "data": {"values": [{}]},
          "mark": {"type": "text", "align": "left", "baseline": "middle", "fontSize": 9, "color": "#000000"},
          "encoding": {
            "x": {"datum": 3, "axis": {"orient": "top", "labels": false, "title": null, "values": [0,10,20,30,40,50,60,70,80,90,100], "minExtent": 0}},
            "y": {"datum": 26.4, "axis": {"orient": "right", "labels": false, "title": null, "values": [20,40,60,80,100,120,140], "minExtent": 0}},
            "text": {"value": "（c）Kunming"}
          }
        }
      ]
    },
    {
      "width": 286, "height": 227,
      "data": {"name": "d"},
      "resolve": {"axis": {"x": "independent", "y": "independent"}},
      "layer": [
        {
          "mark": {"type": "line", "interpolate": "monotone", "clip": true},
          "encoding": {
            "x": {"field": "t", "type": "quantitative", "scale": {"domain": [0, 100], "nice": false}, "axis": {"values": [0,10,20,30,40,50,60,70,80,90,100], "labelOverlap": false, "title": "Return Period（yr）"}},
            "y": {"field": "v", "type": "quantitative", "scale": {"domain": [20, 160], "nice": false}, "axis": {"values": [20,40,60,80,100,120,140,160], "labelOverlap": false, "title": "Precipitaion intensity（mm/d）"}},
            "color": {"field": "s", "type": "nominal", "scale": {"domain": ["2d historical","2d for rcp2.6","2d for rcp8.5","3d historical","3d for rcp2.6","3d for rcp8.5","4d historical","4d for rcp2.6","4d for rcp8.5","5d historical","5d for rcp2.6","5d for rcp8.5"], "range": ["#FF1A1A","#FF1A1A","#FF1A1A","#4060C0","#4060C0","#4060C0","#B5449E","#B5449E","#B5449E","#7CC67C","#7CC67C","#7CC67C"]}, "legend": null},
            "strokeDash": {"field": "s", "type": "nominal", "scale": {"domain": ["2d historical","2d for rcp2.6","2d for rcp8.5","3d historical","3d for rcp2.6","3d for rcp8.5","4d historical","4d for rcp2.6","4d for rcp8.5","5d historical","5d for rcp2.6","5d for rcp8.5"], "range": [[1,0],[6,4],[6,2,2,2],[1,0],[8,4],[7,2.5,1.5,2.5],[1,0],[6,4],[6,2,2,2],[1,0],[8,4],[7,2.5,1.5,2.5]]}, "legend": null},
            "strokeWidth": {"field": "s", "type": "nominal", "scale": {"type": "ordinal", "domain": ["2d historical","2d for rcp2.6","2d for rcp8.5","3d historical","3d for rcp2.6","3d for rcp8.5","4d historical","4d for rcp2.6","4d for rcp8.5","5d historical","5d for rcp2.6","5d for rcp8.5"], "range": [2.2,2.2,2.2,0.9,0.9,0.9,2.2,2.2,2.2,0.9,0.9,0.9]}, "legend": null}
          }
        },
        {
          "data": {"values": [{}]},
          "mark": {"type": "text", "align": "left", "baseline": "middle", "fontSize": 9, "color": "#000000"},
          "encoding": {
            "x": {"datum": 3, "axis": {"orient": "top", "labels": false, "title": null, "values": [0,10,20,30,40,50,60,70,80,90,100], "minExtent": 0}},
            "y": {"datum": 28.3, "axis": {"orient": "right", "labels": false, "title": null, "values": [20,40,60,80,100,120,140,160], "minExtent": 0}},
            "text": {"value": "（d）Nanjing"}
          }
        }
      ]
    },
    {
      "width": 286, "height": 227,
      "data": {"name": "e"},
      "resolve": {"axis": {"x": "independent", "y": "independent"}},
      "layer": [
        {
          "mark": {"type": "line", "interpolate": "monotone", "clip": true},
          "encoding": {
            "x": {"field": "t", "type": "quantitative", "scale": {"domain": [0, 100], "nice": false}, "axis": {"values": [0,10,20,30,40,50,60,70,80,90,100], "labelOverlap": false, "title": "Return Period（yr）"}},
            "y": {"field": "v", "type": "quantitative", "scale": {"domain": [5, 40], "nice": false}, "axis": {"values": [5,10,15,20,25,30,35,40], "labelOverlap": false, "title": "Precipitaion intensity（mm/d）"}},
            "color": {"field": "s", "type": "nominal", "scale": {"domain": ["2d historical","2d for rcp2.6","2d for rcp8.5","3d historical","3d for rcp2.6","3d for rcp8.5","4d historical","4d for rcp2.6","4d for rcp8.5","5d historical","5d for rcp2.6","5d for rcp8.5"], "range": ["#FF1A1A","#FF1A1A","#FF1A1A","#4060C0","#4060C0","#4060C0","#B5449E","#B5449E","#B5449E","#7CC67C","#7CC67C","#7CC67C"]}, "legend": null},
            "strokeDash": {"field": "s", "type": "nominal", "scale": {"domain": ["2d historical","2d for rcp2.6","2d for rcp8.5","3d historical","3d for rcp2.6","3d for rcp8.5","4d historical","4d for rcp2.6","4d for rcp8.5","5d historical","5d for rcp2.6","5d for rcp8.5"], "range": [[1,0],[6,4],[6,2,2,2],[1,0],[8,4],[7,2.5,1.5,2.5],[1,0],[6,4],[6,2,2,2],[1,0],[8,4],[7,2.5,1.5,2.5]]}, "legend": null},
            "strokeWidth": {"field": "s", "type": "nominal", "scale": {"type": "ordinal", "domain": ["2d historical","2d for rcp2.6","2d for rcp8.5","3d historical","3d for rcp2.6","3d for rcp8.5","4d historical","4d for rcp2.6","4d for rcp8.5","5d historical","5d for rcp2.6","5d for rcp8.5"], "range": [2.2,2.2,2.2,0.9,0.9,0.9,2.2,2.2,2.2,0.9,0.9,0.9]}, "legend": null}
          }
        },
        {
          "data": {"values": [{}]},
          "mark": {"type": "text", "align": "left", "baseline": "middle", "fontSize": 9, "color": "#000000"},
          "encoding": {
            "x": {"datum": 3, "axis": {"orient": "top", "labels": false, "title": null, "values": [0,10,20,30,40,50,60,70,80,90,100], "minExtent": 0}},
            "y": {"datum": 6.9, "axis": {"orient": "right", "labels": false, "title": null, "values": [5,10,15,20,25,30,35,40], "minExtent": 0}},
            "text": {"value": "（e）Urumchi"}
          }
        }
      ]
    },
    {
      "width": 286, "height": 227,
      "data": {"name": "f"},
      "resolve": {"axis": {"x": "independent", "y": "independent"}},
      "layer": [
        {
          "mark": {"type": "line", "interpolate": "monotone", "clip": true},
          "encoding": {
            "x": {"field": "t", "type": "quantitative", "scale": {"domain": [0, 100], "nice": false}, "axis": {"values": [0,10,20,30,40,50,60,70,80,90,100], "labelOverlap": false, "title": "Return Period（yr）"}},
            "y": {"field": "v", "type": "quantitative", "scale": {"domain": [10, 90], "nice": false}, "axis": {"values": [10,20,30,40,50,60,70,80,90], "labelOverlap": false, "title": "Precipitaion intensity（mm/d）"}},
            "color": {"field": "s", "type": "nominal", "scale": {"domain": ["2d historical","2d for rcp2.6","2d for rcp8.5","3d historical","3d for rcp2.6","3d for rcp8.5","4d historical","4d for rcp2.6","4d for rcp8.5","5d historical","5d for rcp2.6","5d for rcp8.5"], "range": ["#FF1A1A","#FF1A1A","#FF1A1A","#4060C0","#4060C0","#4060C0","#B5449E","#B5449E","#B5449E","#7CC67C","#7CC67C","#7CC67C"]}, "legend": null},
            "strokeDash": {"field": "s", "type": "nominal", "scale": {"domain": ["2d historical","2d for rcp2.6","2d for rcp8.5","3d historical","3d for rcp2.6","3d for rcp8.5","4d historical","4d for rcp2.6","4d for rcp8.5","5d historical","5d for rcp2.6","5d for rcp8.5"], "range": [[1,0],[6,4],[6,2,2,2],[1,0],[8,4],[7,2.5,1.5,2.5],[1,0],[6,4],[6,2,2,2],[1,0],[8,4],[7,2.5,1.5,2.5]]}, "legend": null},
            "strokeWidth": {"field": "s", "type": "nominal", "scale": {"type": "ordinal", "domain": ["2d historical","2d for rcp2.6","2d for rcp8.5","3d historical","3d for rcp2.6","3d for rcp8.5","4d historical","4d for rcp2.6","4d for rcp8.5","5d historical","5d for rcp2.6","5d for rcp8.5"], "range": [2.2,2.2,2.2,0.9,0.9,0.9,2.2,2.2,2.2,0.9,0.9,0.9]}, "legend": null}
          }
        },
        {
          "data": {"values": [{}]},
          "mark": {"type": "text", "align": "left", "baseline": "middle", "fontSize": 9, "color": "#000000"},
          "encoding": {
            "x": {"datum": 3, "axis": {"orient": "top", "labels": false, "title": null, "values": [0,10,20,30,40,50,60,70,80,90,100], "minExtent": 0}},
            "y": {"datum": 14.6, "axis": {"orient": "right", "labels": false, "title": null, "values": [10,20,30,40,50,60,70,80,90], "minExtent": 0}},
            "text": {"value": "（f）Xi'an"}
          }
        }
      ]
    }
  ],
  "config": {
    "font": "Liberation Sans, Noto Sans CJK SC, sans-serif",
    "view": {"stroke": "#262626", "strokeWidth": 0.8},
    "axis": {
      "grid": false,
      "domain": false,
      "labelOverlap": false,
      "tickColor": "#262626",
      "tickSize": -3,
      "tickWidth": 0.8,
      "labelFontSize": 9,
      "labelColor": "#262626",
      "labelPadding": 4,
      "titleColor": "#000000",
      "titleFontWeight": "normal"
    },
    "axisX": {"titleFontSize": 10, "titlePadding": 3},
    "axisY": {"titleFontSize": 11, "titlePadding": 2},
    "legend": {
      "symbolType": "M-1,0L2.6,0",
      "symbolSize": 144,
      "labelFontSize": 8.5,
      "labelColor": "#262626",
      "strokeColor": "#262626",
      "fillColor": "white",
      "padding": 3,
      "rowPadding": -3.5,
      "labelOffset": 13
    }
  }
}
